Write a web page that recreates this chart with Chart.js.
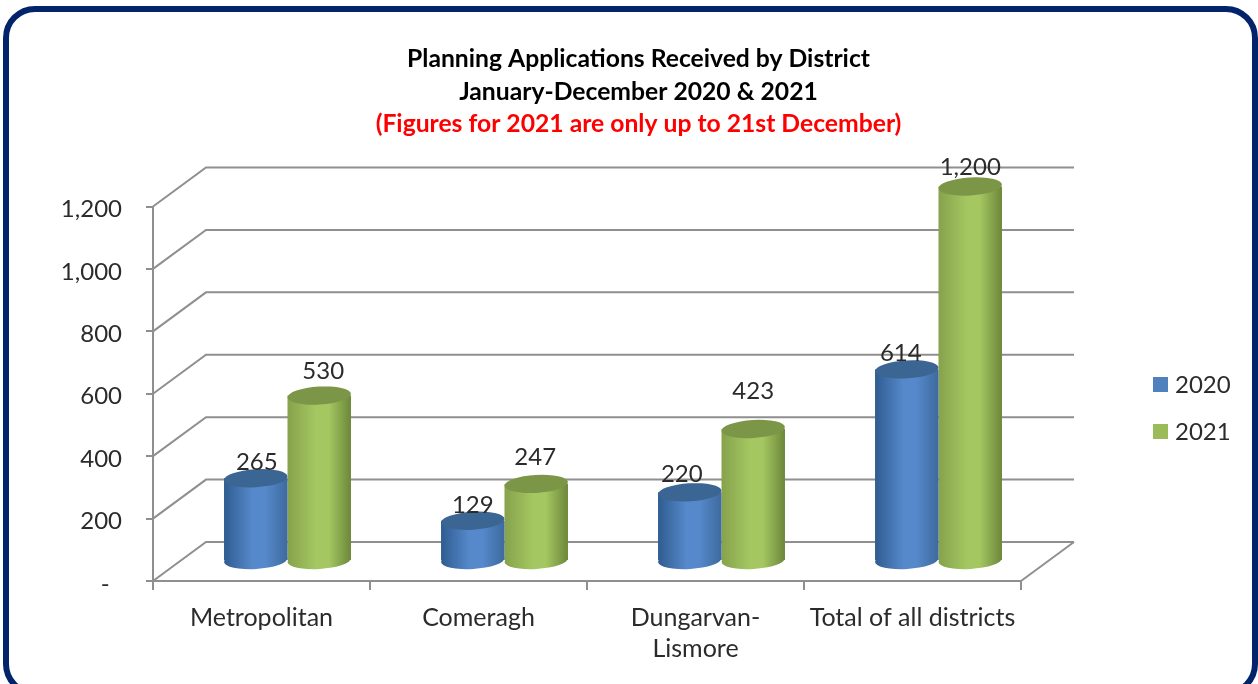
<!DOCTYPE html>
<html>
<head>
<meta charset="utf-8">
<script src="https://cdn.jsdelivr.net/npm/chart.js@4"></script>
<style>
    html, body { margin: 0; padding: 0; width: 1258px; height: 684px; overflow: hidden; background: #fff; }
    #frame { position: absolute; left: 3px; top: 6px; width: 1243px; height: 678px; border: 6px solid #03246a; border-radius: 32px; }
    canvas { position: absolute; left: 0; top: 0; }
</style>
</head>
<body>
<div id="frame"></div>
<canvas id="planningChart" width="1277" height="684"></canvas>
<script>
var categories = ['Metropolitan', 'Comeragh', ['Dungarvan-', 'Lismore'], 'Total of all districts'];
var seriesNames = ['2020', '2021'];
var values2020 = [265, 129, 220, 614];
var values2021 = [530, 247, 423, 1200];
var titleLines = ['Planning Applications Received by District', 'January-December 2020 & 2021'];
var subtitleLine = '(Figures for 2021 are only up to 21st December)';

var FONT = 'Lato, Carlito, sans-serif';
var GREY = '#8f8f8f';
var TEXT = '#2b2b2b';
var DEPTH_X = 53, DEPTH_Y = 39;     // back wall offset
var BAR_X = 26, BAR_Y = 20;         // bars stand halfway into the floor
var CAP_RY = 9, CAP_TILT = -0.06;

var shades = [
    {swatch: '#4f81bd', cap: '#3b6593', stops: ['#2f5c90', '#5689cb', '#3d6a9e']},
    {swatch: '#9bbb59', cap: '#7c9648', stops: ['#86a24c', '#a4c761', '#6c873a']}
];

// label nudges from the default spot above each cap: [dx, lift]
var labelNudges = [
    [[1, 16], [0, 15], [-8, 18], [-6, 16]],
    [[4, 24], [-1, 27], [0, 38], [0, 19]]
];

function barGradient(context) {
    var chart = context.chart;
    var x = chart.scales.x;
    var plain = shades[context.datasetIndex].swatch;
    if (!x || context.dataIndex === undefined) return plain;
    var w = x.width / categories.length * 0.585 / 2;
    var centre = x.getPixelForValue(context.dataIndex) + (context.datasetIndex === 0 ? -w / 2 : w / 2);
    if (!isFinite(centre) || !isFinite(w)) return plain;
    var g = chart.ctx.createLinearGradient(centre - w / 2, 0, centre + w / 2, 0);
    var s = shades[context.datasetIndex].stops;
    g.addColorStop(0, s[0]);
    g.addColorStop(0.45, s[1]);
    g.addColorStop(0.65, s[1]);
    g.addColorStop(1, s[2]);
    return g;
}

var threeD = {
    id: 'threeD',
    afterLayout: function (chart) {
        // Lato sits a little high against the tick marks
        chart.scales.y.getLabelItems().forEach(function (item) {
            item.options.translation[1] += 3;
        });
    },
    beforeDatasetsDraw: function (chart) {
        var ctx = chart.ctx, area = chart.chartArea, y = chart.scales.y;
        ctx.save();
        ctx.strokeStyle = GREY;
        ctx.lineWidth = 2;
        y.ticks.forEach(function (t) {
            var py = y.getPixelForValue(t.value);
            ctx.beginPath();
            ctx.moveTo(area.left, py);
            ctx.lineTo(area.left + DEPTH_X, py - DEPTH_Y);
            ctx.lineTo(area.right + DEPTH_X, py - DEPTH_Y);
            ctx.stroke();
        });
        ctx.beginPath();
        ctx.moveTo(area.right, area.bottom);
        ctx.lineTo(area.right + DEPTH_X, area.bottom - DEPTH_Y);
        ctx.stroke();
        ctx.restore();
    },
    beforeDatasetDraw: function (chart, args) {
        var ctx = chart.ctx;
        ctx.save();
        ctx.translate(BAR_X, -BAR_Y);
        args.meta.data.forEach(function (bar, i) {
            ctx.beginPath();
            ctx.ellipse(bar.x, bar.base, bar.width / 2, CAP_RY, CAP_TILT, 0, Math.PI * 2);
            ctx.fillStyle = bar.options.backgroundColor;
            ctx.fill();
        });
    },
    afterDatasetDraw: function (chart, args) {
        var ctx = chart.ctx;
        args.meta.data.forEach(function (bar) {
            ctx.beginPath();
            ctx.ellipse(bar.x, bar.y, bar.width / 2, CAP_RY, CAP_TILT, 0, Math.PI * 2);
            ctx.fillStyle = shades[args.index].cap;
            ctx.fill();
        });
        ctx.restore();
    },
    afterDatasetsDraw: function (chart) {
        var ctx = chart.ctx;
        ctx.save();
        ctx.font = '24px ' + FONT;
        ctx.fillStyle = TEXT;
        ctx.textAlign = 'center';
        ctx.textBaseline = 'middle';
        chart.data.datasets.forEach(function (ds, d) {
            chart.getDatasetMeta(d).data.forEach(function (bar, i) {
                var nudge = labelNudges[d][i];
                ctx.fillText(ds.data[i].toLocaleString('en-US'), bar.x + BAR_X + nudge[0], bar.y - BAR_Y - nudge[1]);
            });
        });
        // legend, sits well clear of the plot so the built-in box does not fit here
        ctx.textAlign = 'left';
        chart.data.datasets.forEach(function (ds, d) {
            var cy = 385 + d * 47;
            ctx.fillStyle = shades[d].swatch;
            ctx.fillRect(1153, cy - 8, 15, 15);
            ctx.fillStyle = TEXT;
            ctx.fillText(ds.label, 1175, cy);
        });
        ctx.restore();
    }
};

new Chart(document.getElementById('planningChart').getContext('2d'), {
    type: 'bar',
    data: {
        labels: categories,
        datasets: [
            {label: seriesNames[0], data: values2020, backgroundColor: barGradient, clip: false},
            {label: seriesNames[1], data: values2021, backgroundColor: barGradient, clip: false}
        ]
    },
    plugins: [threeD],
    options: {
        responsive: false,
        animation: false,
        events: [],
        datasets: {bar: {categoryPercentage: 0.585, barPercentage: 1}},
        plugins: {
            legend: {display: false},
            tooltip: {enabled: false},
            title: {
                display: true,
                text: titleLines,
                color: '#000',
                font: {family: FONT, size: 24.7, weight: 'bold', lineHeight: 1.316},
                padding: {top: 43, bottom: 0}
            },
            subtitle: {
                display: true,
                text: subtitleLine,
                color: '#ff0000',
                font: {family: FONT, size: 24.7, weight: 'bold', lineHeight: 1.316},
                padding: {top: 0, bottom: 66}
            }
        },
        scales: {
            x: {
                grid: {drawOnChartArea: false, color: GREY, lineWidth: 2, tickLength: 9},
                border: {color: GREY, width: 2},
                ticks: {color: TEXT, font: {family: FONT, size: 25, lineHeight: 1.24}, padding: 12, maxRotation: 0, autoSkip: false},
                afterFit: function (scale) { scale.height = 103; }
            },
            y: {
                min: 0,
                max: 1200,
                grid: {drawOnChartArea: false, color: GREY, lineWidth: 2, tickLength: 7},
                border: {color: GREY, width: 2},
                ticks: {
                    stepSize: 200,
                    color: TEXT,
                    padding: 24,
                    font: {family: FONT, size: 24},
                    callback: function (v) { return v === 0 ? '-  ' : v.toLocaleString('en-US'); }
                },
                afterFit: function (scale) { scale.width = 153; }
            },
            // empty right-hand axis keeps the plot clear of the legend and lets the title centre on the canvas
            spacer: {
                position: 'right',
                grid: {display: false},
                border: {display: false},
                ticks: {display: false},
                afterFit: function (scale) { scale.width = 256; }
            }
        }
    }
});
</script>
</body>
</html>
